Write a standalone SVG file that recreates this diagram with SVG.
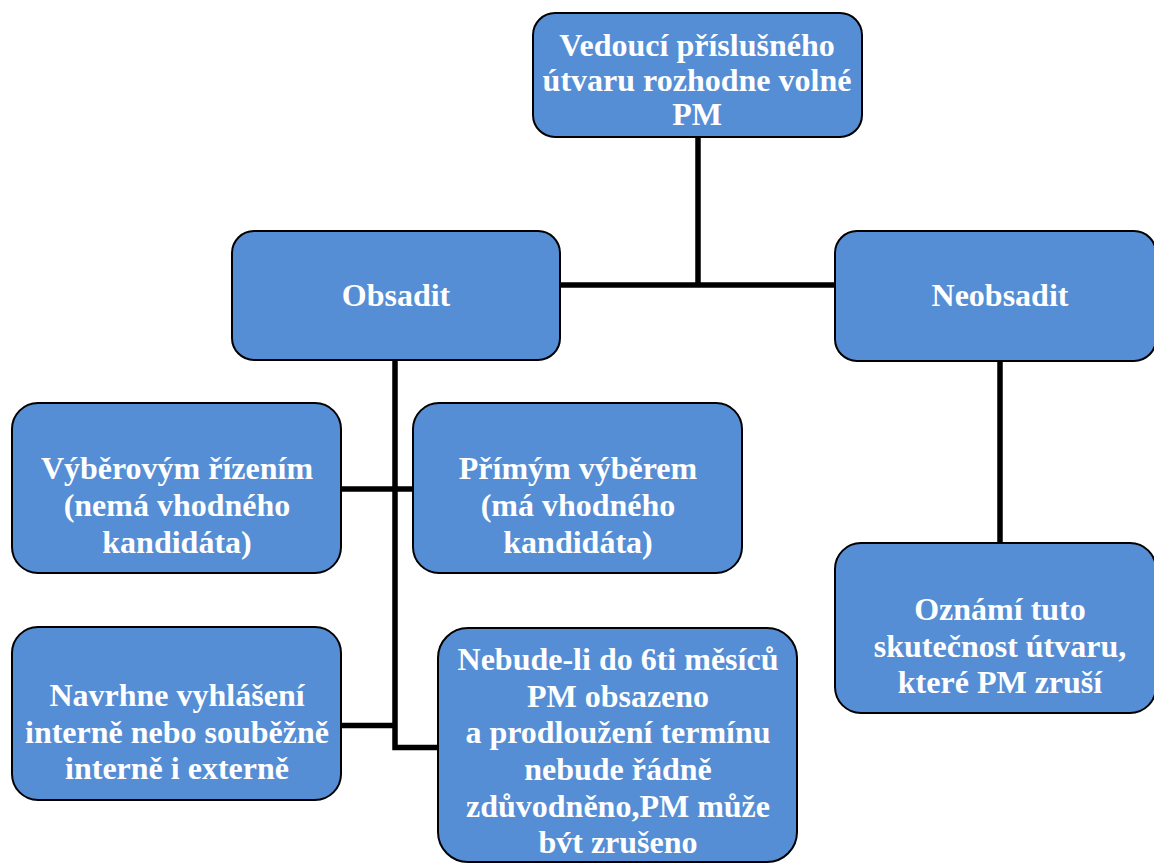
<svg xmlns="http://www.w3.org/2000/svg" width="1154" height="864" viewBox="0 0 1154 864">
  <style>
    .box { fill: #558ED5; stroke: #000; stroke-width: 2; }
    .lbl { font-family: 'Liberation Serif', serif; font-weight: 700; font-size: 32px; fill: #fff; text-anchor: middle; }
    .link { fill: none; stroke: #000; stroke-width: 5.5; stroke-linejoin: miter; stroke-linecap: butt; }
  </style>
  <rect width="1154" height="864" fill="#fff"/>

  <!-- tree connectors -->
  <g id="connectors">
    <path class="link" d="M698 137 V285"/>
    <path class="link" d="M560 285 H835"/>
    <path class="link" d="M395 360 V747.5 H438"/>
    <path class="link" d="M341 489 H413"/>
    <path class="link" d="M341 725.5 H395"/>
    <path class="link" d="M1000 361 V543"/>
  </g>

  <g id="node-vedouci">
    <rect class="box" x="533" y="13" width="329" height="124" rx="22"/>
    <text class="lbl" x="697" y="56">Vedoucí příslušného</text>
    <text class="lbl" x="697" y="91">útvaru rozhodne volné</text>
    <text class="lbl" x="697" y="125">PM</text>
  </g>

  <g id="node-obsadit">
    <rect class="box" x="232" y="231" width="328" height="129" rx="22"/>
    <text class="lbl" x="396" y="306">Obsadit</text>
  </g>

  <g id="node-neobsadit">
    <rect class="box" x="835" y="231" width="321" height="130" rx="22"/>
    <text class="lbl" x="1000" y="306">Neobsadit</text>
  </g>

  <g id="node-vyberove-rizeni">
    <rect class="box" x="12" y="403" width="329" height="170" rx="26"/>
    <text class="lbl" x="177" y="479">Výběrovým řízením</text>
    <text class="lbl" x="177" y="516">(nemá vhodného</text>
    <text class="lbl" x="177" y="553">kandidáta)</text>
  </g>

  <g id="node-primy-vyber">
    <rect class="box" x="413" y="403" width="329" height="170" rx="26"/>
    <text class="lbl" x="578" y="479">Přímým výběrem</text>
    <text class="lbl" x="578" y="516">(má vhodného</text>
    <text class="lbl" x="578" y="553">kandidáta)</text>
  </g>

  <g id="node-oznami">
    <rect class="box" x="835" y="543" width="321" height="170" rx="26"/>
    <text class="lbl" x="1000" y="620">Oznámí tuto</text>
    <text class="lbl" x="1000" y="657">skutečnost útvaru,</text>
    <text class="lbl" x="1000" y="693">které PM zruší</text>
  </g>

  <g id="node-navrhne">
    <rect class="box" x="12" y="627" width="329" height="173" rx="26"/>
    <text class="lbl" x="177" y="706">Navrhne vyhlášení</text>
    <text class="lbl" x="177" y="743">interně nebo souběžně</text>
    <text class="lbl" x="177" y="779">interně i externě</text>
  </g>

  <g id="node-nebude-li">
    <rect class="box" x="438" y="628" width="359" height="234" rx="30"/>
    <text class="lbl" x="618" y="670">Nebude-li do 6ti měsíců</text>
    <text class="lbl" x="618" y="707">PM obsazeno</text>
    <text class="lbl" x="618" y="743">a prodloužení termínu</text>
    <text class="lbl" x="618" y="780">nebude řádně</text>
    <text class="lbl" x="618" y="817">zdůvodněno,PM může</text>
    <text class="lbl" x="618" y="853">bv́t zrušeno</text>
  </g>
</svg>
